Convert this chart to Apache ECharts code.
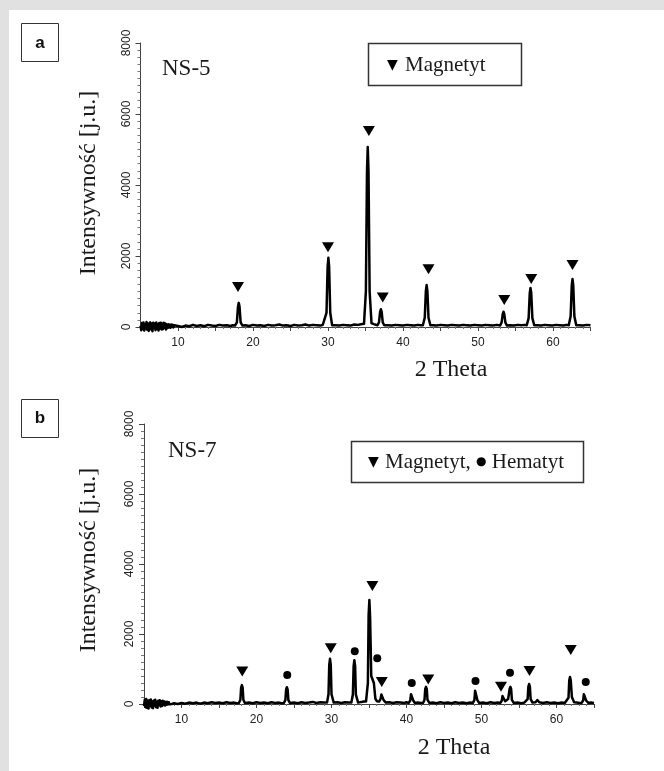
<!DOCTYPE html>
<html>
<head>
<meta charset="utf-8">
<script src="https://cdn.jsdelivr.net/npm/echarts@6/dist/echarts.min.js"></script>
<style>html,body{margin:0;padding:0;}#c{width:664px;height:771px;}</style>
</head>
<body>
<div id="c"></div>
<script>
// ---- data ----
var yTicks = [0, 2000, 4000, 6000, 8000];
var xTicks = [10, 20, 30, 40, 50, 60];

// NS-5 diffractogram [2θ, intensity]
var ns5 = [
 [5.0,40],[5.1,-90],[5.2,110],[5.3,-60],[5.4,130],[5.5,-100],[5.6,80],[5.7,-40],[5.8,140],[5.9,-80],
 [6.0,100],[6.1,-110],[6.2,60],[6.3,130],[6.4,-70],[6.5,90],[6.6,-120],[6.7,120],[6.8,-30],[6.9,100],
 [7.0,-90],[7.1,130],[7.2,-50],[7.3,80],[7.4,-100],[7.5,110],[7.6,-40],[7.7,120],[7.8,-70],[7.9,90],
 [8.0,-60],[8.1,120],[8.2,-20],[8.3,100],[8.4,-70],[8.5,70],[8.6,-30],[8.7,80],[8.8,-10],[8.9,60],[9.0,-20],
 [9.1,70],[9.2,0],[9.3,60],[9.4,-10],[9.5,50],[9.7,10],[10,30],[10.5,0],[11,40],[11.5,20],[12,60],[12.5,30],[13,50],[13.5,20],[14,60],[14.5,40],
 [15,30],[15.5,60],[16,40],[16.5,50],[17,30],[17.3,50],
 [17.6,40],[17.85,130],[18.0,580],[18.1,680],[18.2,580],[18.35,130],[18.6,40],
 [19,50],[19.5,30],[20,60],[20.5,40],[21,50],[21.5,30],[22,60],[22.5,40],[23,50],[23.5,70],[24,40],
 [24.5,50],[25,30],[25.5,60],[26,40],[26.5,50],[27,70],[27.5,40],[28,60],[28.5,50],[29,40],[29.3,60],
 [29.55,50],[29.8,400],[29.95,1700],[30.05,1950],[30.15,1700],[30.3,400],[30.55,50],
 [31,50],[31.5,40],[32,60],[32.5,50],[33,40],[33.5,70],[34,60],[34.4,80],
 [34.8,90],[35.05,1000],[35.2,4400],[35.3,5070],[35.4,4400],[35.55,1000],[35.8,110],
 [36.1,80],[36.35,60],
 [36.6,50],[36.8,130],[36.95,430],[37.05,500],[37.15,430],[37.3,130],[37.5,50],
 [38,50],[38.5,40],[39,60],[39.5,50],[40,40],[40.5,60],[41,50],[41.5,40],[42,60],[42.35,50],
 [42.65,50],[42.9,260],[43.05,1020],[43.15,1180],[43.25,1020],[43.4,260],[43.65,50],
 [44,50],[44.5,40],[45,60],[45.5,50],[46,40],[46.5,60],[47,50],[47.5,40],[48,60],[48.5,50],[49,40],
 [49.5,60],[50,50],[50.5,40],[51,60],[51.5,50],[52,40],[52.5,60],
 [52.95,40],[53.15,130],[53.3,370],[53.4,430],[53.5,370],[53.65,130],[53.85,40],
 [54.3,50],[54.8,40],[55.3,60],[55.8,50],[56.2,60],
 [56.5,50],[56.75,250],[56.9,950],[57.0,1100],[57.1,950],[57.25,250],[57.5,50],
 [57.9,50],[58.4,40],[58.9,60],[59.4,50],[59.9,40],[60.4,60],[60.9,50],[61.4,40],[61.8,60],
 [62.1,50],[62.35,300],[62.5,1170],[62.6,1350],[62.7,1170],[62.85,300],[63.1,50],
 [63.5,50],[64,40],[64.5,60],[65,50]
];
var ns5Magnetyt = [[18.0,1130],[30.0,2250],[35.45,5520],[37.3,830],[43.4,1630],[53.5,760],[57.1,1350],[62.6,1750]];

// NS-7 diffractogram [2θ, intensity]
var ns7 = [
 [5.0,-60],[5.1,120],[5.2,-90],[5.3,140],[5.4,-110],[5.5,90],[5.6,-130],[5.7,110],[5.8,-50],[5.9,130],
 [6.0,-100],[6.1,70],[6.2,-120],[6.3,100],[6.4,-40],[6.5,120],[6.6,-90],[6.7,60],[6.8,-110],[6.9,90],
 [7.0,-30],[7.1,110],[7.2,-70],[7.3,80],[7.4,-60],[7.5,90],[7.6,-30],[7.7,70],[7.8,-40],[7.9,60],
 [8.0,-20],[8.1,60],[8.2,-10],[8.3,50],[8.4,-10],[8.5,40],[8.7,0],
 [9,20],[9.5,0],[10,30],[10.5,10],[11,40],[11.5,20],[12,40],[12.5,10],[13,40],[13.5,20],[14,50],
 [14.5,30],[15,40],[15.5,20],[16,50],[16.5,30],[17,40],[17.35,20],
 [17.65,30],[17.85,120],[17.95,470],[18.05,540],[18.15,470],[18.25,120],[18.45,30],
 [19,40],[19.5,20],[20,50],[20.5,30],[21,40],[21.5,20],[22,50],[22.5,30],[23,40],[23.35,20],
 [23.65,30],[23.85,110],[23.95,410],[24.05,480],[24.15,410],[24.25,110],[24.45,30],
 [25,40],[25.5,20],[26,50],[26.5,30],[27,40],[27.5,60],[28,30],[28.5,50],[29,40],
 [29.4,40],[29.6,280],[29.7,1120],[29.8,1290],[29.9,1120],[30.0,280],[30.3,40],
 [30.8,50],[31.3,30],[31.8,50],[32.3,40],
 [32.65,40],[32.85,270],[32.95,1080],[33.05,1250],[33.15,1080],[33.25,270],[33.55,40],
 [34,60],[34.3,70],
 [34.6,70],[34.85,600],[34.95,2550],[35.05,2970],[35.15,2450],[35.3,800],[35.5,820],[35.65,600],[35.85,150],[36.05,80],
 [36.35,70],[36.55,150],[36.65,270],[36.72,290],[36.8,260],[36.95,110],[37.25,40],
 [37.7,50],[38.2,30],[38.7,50],[39.2,40],[39.7,30],[40.0,50],
 [40.3,30],[40.5,100],[40.6,280],[40.7,320],[40.8,280],[40.9,100],[41.1,30],
 [41.5,40],[41.9,30],
 [42.2,30],[42.4,120],[42.5,430],[42.6,490],[42.7,430],[42.8,120],[43.05,30],
 [43.5,40],[44,20],[44.5,50],[45,30],[45.5,40],[46,20],[46.5,50],[47,30],[47.5,40],[48,20],[48.5,40],
 [48.85,30],[49.05,110],[49.15,380],[49.25,430],[49.35,380],[49.45,110],[49.7,30],
 [50.2,40],[50.7,20],[51.2,50],[51.7,30],[52.2,40],
 [52.5,30],[52.7,90],[52.8,230],[52.88,260],[52.98,220],[53.15,80],[53.35,60],
 [53.55,140],[53.75,430],[53.85,490],[53.95,430],[54.05,120],[54.3,30],
 [54.8,40],[55.3,20],[55.7,40],
 [55.95,30],[56.15,140],[56.25,500],[56.35,570],[56.45,500],[56.55,140],[56.8,40],
 [57.2,50],[57.45,110],[57.7,50],
 [58.2,30],[58.7,50],[59.2,30],[59.7,40],[60.2,20],[60.7,40],[61.1,30],
 [61.35,40],[61.6,180],[61.7,680],[61.8,770],[61.9,680],[62.05,200],[62.35,50],
 [62.7,40],[63.05,30],
 [63.35,30],[63.55,100],[63.65,280],[63.75,320],[63.85,280],[63.95,100],[64.25,30],
 [64.6,40],[65,30]
];
var ns7Magnetyt = [[18.1,930],[29.9,1590],[35.45,3370],[36.7,630],[42.9,700],[52.6,490],[56.4,940],[61.9,1540]];
var ns7Hematyt = [[24.1,830],[33.1,1510],[36.1,1310],[40.7,600],[49.2,660],[53.8,890],[63.9,630]];

// ---- chart ----
var serif = '"Liberation Serif","Times New Roman",serif';
var sans = '"Liberation Sans",Arial,sans-serif';

function xAxisFor(i) {
  return {
    type: 'value', gridIndex: i, min: 5, max: 65, interval: 5,
    axisLine: {show: true, lineStyle: {color: '#444', width: 1}},
    axisTick: {show: true, length: 4, lineStyle: {color: '#444'}},
    minorTick: {show: true, splitNumber: 5, length: 2, lineStyle: {color: '#777'}},
    splitLine: {show: false},
    axisLabel: {
      color: '#222', fontFamily: sans, fontSize: 12, margin: 10,
      formatter: function (v) { return xTicks.indexOf(v) >= 0 ? String(v) : ''; }
    }
  };
}
function yAxisFor(i) {
  return {
    type: 'value', gridIndex: i, min: yTicks[0], max: yTicks[yTicks.length - 1], interval: 2000,
    axisLine: {show: true, lineStyle: {color: '#444', width: 1}},
    axisTick: {show: true, length: 5, lineStyle: {color: '#444'}},
    minorTick: {show: true, splitNumber: 10, length: 3, lineStyle: {color: '#777'}},
    splitLine: {show: false},
    axisLabel: {color: '#222', fontFamily: sans, fontSize: 12, rotate: 90, margin: 8,
      formatter: function (v) { return String(v); }}
  };
}
function lineSeries(data, i) {
  return {
    type: 'line', xAxisIndex: i, yAxisIndex: i, data: data, showSymbol: false, clip: false,
    lineStyle: {color: '#000', width: 2.5, join: 'round'}, animation: false, z: 3
  };
}
function markerSeries(data, i, sym) {
  var tri = sym === 'triangle';
  return {
    type: 'scatter', xAxisIndex: i, yAxisIndex: i, data: data, symbol: sym,
    symbolRotate: tri ? 180 : 0, symbolSize: tri ? [12, 10] : 8,
    itemStyle: {color: '#000', opacity: 1}, animation: false, z: 4
  };
}

var chart = echarts.init(document.getElementById('c'), null, {renderer: 'canvas'});
chart.setOption({
  backgroundColor: '#e1e1e1',
  animation: false,
  grid: [
    {left: 140.5, top: 43, width: 450, height: 284},
    {left: 144, top: 424, width: 450, height: 280}
  ],
  xAxis: [xAxisFor(0), xAxisFor(1)],
  yAxis: [yAxisFor(0), yAxisFor(1)],
  series: [
    lineSeries(ns5, 0),
    markerSeries(ns5Magnetyt, 0, 'triangle'),
    lineSeries(ns7, 1),
    markerSeries(ns7Magnetyt, 1, 'triangle'),
    markerSeries(ns7Hematyt, 1, 'circle')
  ],
  graphic: [
    {type: 'rect', silent: true, z: -100, shape: {x: 9, y: 10, width: 655, height: 761}, style: {fill: '#ffffff'}},
    // panel labels
    {type: 'rect', shape: {x: 21.5, y: 23.5, width: 37, height: 38}, style: {fill: '#fff', stroke: '#333', lineWidth: 1}},
    {type: 'text', x: 40, y: 43, style: {text: 'a', font: 'bold 17px ' + sans, align: 'center', verticalAlign: 'middle', fill: '#111'}},
    {type: 'rect', shape: {x: 21.5, y: 399.5, width: 37, height: 38}, style: {fill: '#fff', stroke: '#333', lineWidth: 1}},
    {type: 'text', x: 40, y: 418, style: {text: 'b', font: 'bold 17px ' + sans, align: 'center', verticalAlign: 'middle', fill: '#111'}},
    // sample names
    {type: 'text', x: 162, y: 69, style: {text: 'NS-5', font: '23px ' + serif, align: 'left', verticalAlign: 'middle', fill: '#1a1a1a'}},
    {type: 'text', x: 168, y: 451, style: {text: 'NS-7', font: '23px ' + serif, align: 'left', verticalAlign: 'middle', fill: '#1a1a1a'}},
    // legends
    {type: 'rect', shape: {x: 368.5, y: 43.5, width: 153, height: 42}, style: {fill: '#fff', stroke: '#333', lineWidth: 1.5}},
    {type: 'text', x: 387, y: 65, style: {
      text: '{s|▼} Magnetyt', font: '21px ' + serif, align: 'left', verticalAlign: 'middle', fill: '#1a1a1a',
      rich: {s: {font: '14px "DejaVu Sans"', fill: '#000', padding: [0, 2, 0, 0]}}
    }},
    {type: 'rect', shape: {x: 351.5, y: 441.5, width: 232, height: 41}, style: {fill: '#fff', stroke: '#333', lineWidth: 1.5}},
    {type: 'text', x: 368, y: 462, style: {
      text: '{s|▼} Magnetyt, {c|●} Hematyt', font: '21px ' + serif, align: 'left', verticalAlign: 'middle', fill: '#1a1a1a',
      rich: {s: {font: '14px "DejaVu Sans"', fill: '#000', padding: [0, 1, 0, 0]}, c: {font: '12px "DejaVu Sans"', fill: '#000'}}
    }},
    // axis titles
    {type: 'text', x: 451, y: 370, style: {text: '2 Theta', font: '24px ' + serif, align: 'center', verticalAlign: 'middle', fill: '#1a1a1a'}},
    {type: 'text', x: 454, y: 748, style: {text: '2 Theta', font: '24px ' + serif, align: 'center', verticalAlign: 'middle', fill: '#1a1a1a'}},
    {type: 'text', x: 89, y: 183, rotation: Math.PI / 2, style: {text: 'Intensywność [j.u.]', font: '24px ' + serif, align: 'center', verticalAlign: 'middle', fill: '#1a1a1a'}},
    {type: 'text', x: 89, y: 560, rotation: Math.PI / 2, style: {text: 'Intensywność [j.u.]', font: '24px ' + serif, align: 'center', verticalAlign: 'middle', fill: '#1a1a1a'}}
  ]
});
</script>
</body>
</html>
